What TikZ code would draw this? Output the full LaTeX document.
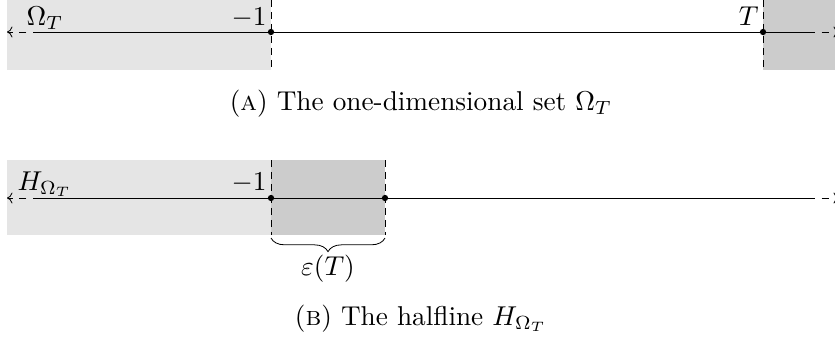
\documentclass[tikz,border=0pt]{standalone}
\usetikzlibrary{decorations.pathreplacing,arrows.meta}
\begin{document}
\begin{tikzpicture}[x=0.367pt,y=-0.367pt,
  lightregion/.style={fill=gray!20},
  darkregion/.style={fill=gray!40},
  border/.style={dash pattern=on 2.6pt off 1.8pt,line width=0.3pt},
  axis/.style={line width=0.3pt},
  axisend/.style={dash pattern=on 2.6pt off 2.4pt,line width=0.3pt,-{To[length=2pt,width=4pt]}},
  dot/.style={circle,fill=black,inner sep=0pt,minimum size=2.3pt},
  lbl/.style={inner sep=0pt}]
\useasboundingbox (0,0) rectangle (835,344);
% ---------- (A) ----------
\fill[lightregion] (7,0) rectangle (271,70);
\fill[darkregion] (763,0) rectangle (840,70);
\coordinate (aL) at (40,32);
\coordinate (aLe) at (7,32);
\coordinate (aR) at (808,32);
\coordinate (aRe) at (839,32);
\node[dot] (am1) at (271,32) {};
\node[dot] (aT) at (763,32) {};
\coordinate (am1t) at (271,0);
\coordinate (am1b) at (271,70);
\coordinate (aTt) at (763,0);
\coordinate (aTb) at (763,70);
\draw[border] (am1t) -- (am1b);
\draw[border] (aTt) -- (aTb);
\draw[axis] (aL) -- (aR);
\draw[axisend] (aL) -- (aLe);
\draw[axisend] (aR) -- (aRe);
\node[lbl,anchor=base west] (omega) at (26,25) {$\Omega_T$};
\node[lbl,anchor=base east] (minusA) at (267,25) {$-1$};
\node[lbl,anchor=base east] (Tlbl) at (759,25) {$T$};
\node[anchor=base] (capA) at (421,110) {(\textsc{a}) The one-dimensional set $\Omega_T$};
% ---------- (B) ----------
\fill[lightregion] (7,160) rectangle (271,235);
\fill[darkregion] (271,160) rectangle (385,235);
\coordinate (bL) at (40,198);
\coordinate (bLe) at (7,198);
\coordinate (bR) at (808,198);
\coordinate (bRe) at (839,198);
\node[dot] (bm1) at (271,198) {};
\node[dot] (beps) at (385,198) {};
\coordinate (bm1t) at (271,160);
\coordinate (bm1b) at (271,235);
\coordinate (bet) at (385,160);
\coordinate (beb) at (385,235);
\draw[border] (bm1t) -- (bm1b);
\draw[border] (bet) -- (beb);
\draw[axis] (bL) -- (bR);
\draw[axisend] (bL) -- (bLe);
\draw[axisend] (bR) -- (bRe);
\coordinate (brL) at (271,238);
\coordinate (brR) at (385,238);
\draw[line width=0.3pt,decorate,decoration={brace,mirror,amplitude=5pt}] (brL) -- (brR);
\node[lbl,anchor=base west] (hlbl) at (17,190) {$H_{\Omega_T}$};
\node[lbl,anchor=base east] (minusB) at (267,190) {$-1$};
\node[lbl] (eps) at (328,269) {$\varepsilon(T)$};
\node[anchor=base] (capB) at (421,325) {(\textsc{b}) The halfline $H_{\Omega_T}$};
\end{tikzpicture}
\end{document}
